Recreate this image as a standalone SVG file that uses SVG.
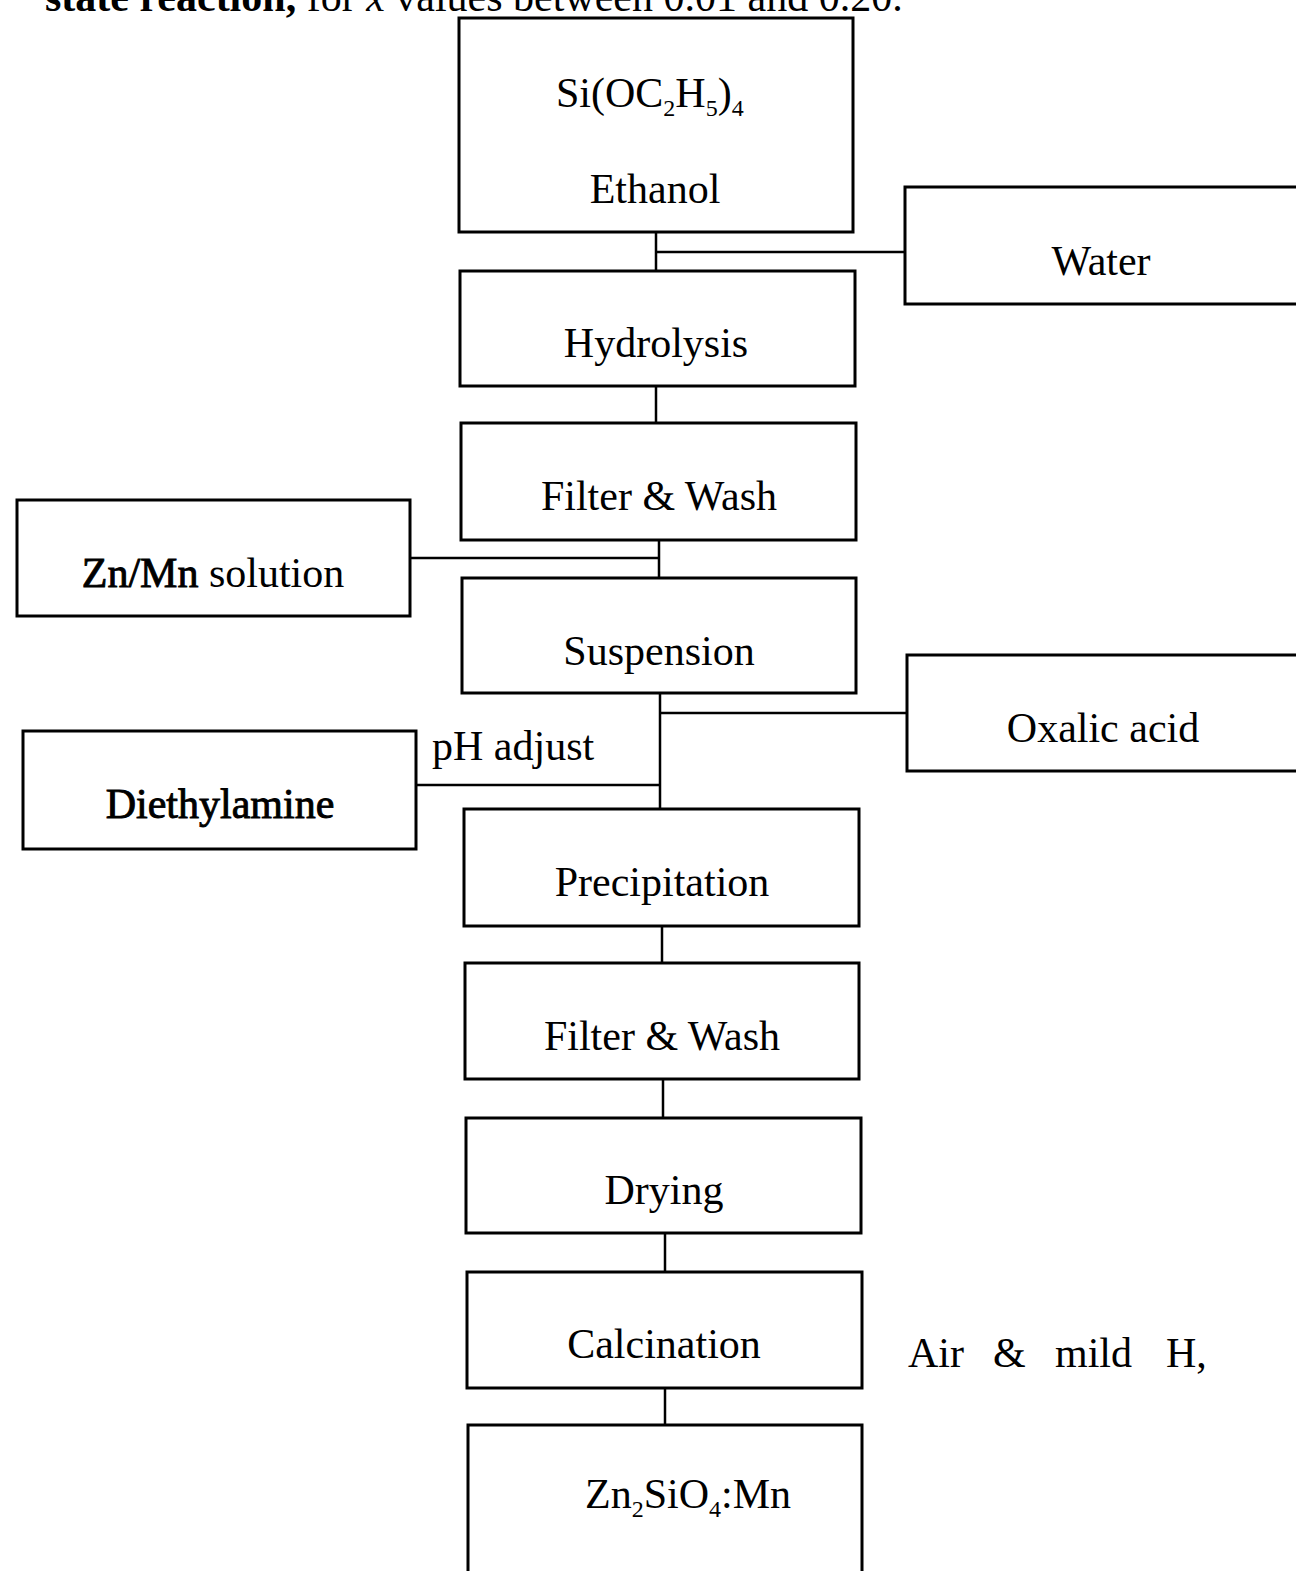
<svg xmlns="http://www.w3.org/2000/svg" width="1296" height="1571" viewBox="0 0 1296 1571">
<style>
.box{fill:#fff;stroke:#000;stroke-width:3}
.ln{fill:none;stroke:#000;stroke-width:2.5}
text{font-family:"Liberation Serif","Times New Roman",serif;font-size:42px;fill:#000}
.c{text-anchor:middle}
.semi{stroke:#000;stroke-width:0.9}
</style>
<rect width="1296" height="1571" fill="#fff"/>
<text x="45" y="11"><tspan font-weight="bold">state reaction,</tspan> for <tspan font-style="italic">x</tspan> values between 0.01 and 0.20.</text>
<g id="connectors">
<path class="ln" d="M656 232V271M656 252H905"/>
<path class="ln" d="M656 386V423"/>
<path class="ln" d="M659 540V578M410 558H659"/>
<path class="ln" d="M660 693V809M660 713H907M416 785H660"/>
<path class="ln" d="M662 926V963"/>
<path class="ln" d="M663 1079V1118"/>
<path class="ln" d="M665 1233V1272"/>
<path class="ln" d="M665 1388V1425"/>
</g>
<g id="n-teos"><rect class="box" x="459" y="18" width="394" height="214"/>
<text x="556" y="107">Si(OC<tspan font-size="24" dy="9">2</tspan><tspan dy="-9">H</tspan><tspan font-size="24" dy="9">5</tspan><tspan dy="-9">)</tspan><tspan font-size="24" dy="9">4</tspan></text>
<text class="c" x="655" y="203">Ethanol</text></g>
<g id="n-water"><rect class="box" x="905" y="187" width="394" height="117"/><text class="c" x="1101" y="275">Water</text></g>
<g id="n-hydrolysis"><rect class="box" x="460" y="271" width="395" height="115"/><text class="c" x="656" y="357">Hydrolysis</text></g>
<g id="n-filter1"><rect class="box" x="461" y="423" width="395" height="117"/><text class="c" x="659" y="510">Filter &amp; Wash</text></g>
<g id="n-znmn"><rect class="box" x="17" y="500" width="393" height="116"/><text class="c" x="213" y="587"><tspan class="semi">Zn/Mn</tspan> solution</text></g>
<g id="n-suspension"><rect class="box" x="462" y="578" width="394" height="115"/><text class="c" x="659" y="665">Suspension</text></g>
<g id="n-oxalic"><rect class="box" x="907" y="655" width="392" height="116"/><text class="c" x="1103" y="742">Oxalic acid</text></g>
<text x="432" y="760">pH adjust</text>
<g id="n-diethylamine"><rect class="box" x="23" y="731" width="393" height="118"/><text class="c semi" x="220" y="818">Diethylamine</text></g>
<g id="n-precipitation"><rect class="box" x="464" y="809" width="395" height="117"/><text class="c" x="662" y="896">Precipitation</text></g>
<g id="n-filter2"><rect class="box" x="465" y="963" width="394" height="116"/><text class="c" x="662" y="1050">Filter &amp; Wash</text></g>
<g id="n-drying"><rect class="box" x="466" y="1118" width="395" height="115"/><text class="c" x="664" y="1204">Drying</text></g>
<g id="n-calcination"><rect class="box" x="467" y="1272" width="395" height="116"/><text class="c" x="664" y="1358">Calcination</text></g>
<text y="1367"><tspan x="908">Air</tspan><tspan x="993">&amp;</tspan><tspan x="1055">mild</tspan><tspan x="1166">H,</tspan></text>
<g id="n-product"><rect class="box" x="468" y="1425" width="394" height="160"/>
<text x="585" y="1508">Zn<tspan font-size="24" dy="9">2</tspan><tspan dy="-9">SiO</tspan><tspan font-size="24" dy="9">4</tspan><tspan dy="-9">:Mn</tspan></text></g>
</svg>
